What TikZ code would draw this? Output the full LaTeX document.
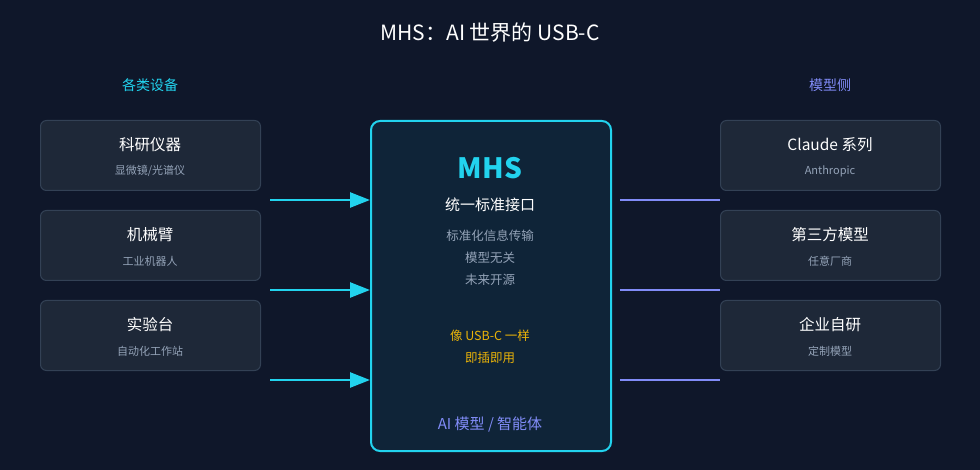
\documentclass[tikz,border=0pt]{standalone}
\usepackage{fontspec}
\setmainfont{Noto Sans CJK SC}
\usetikzlibrary{arrows.meta}
\definecolor{bg}{HTML}{0F172A}
\definecolor{boxf}{HTML}{1E2838}
\definecolor{boxd}{HTML}{334155}
\definecolor{cy}{HTML}{22D3EE}
\definecolor{pu}{HTML}{818CF8}
\definecolor{gr}{HTML}{94A3B8}
\definecolor{yl}{HTML}{EAB308}
\definecolor{cf}{HTML}{0F2438}
\begin{document}
\begin{tikzpicture}[x=1pt,y=-1pt,
 box/.style={draw=boxd,fill=boxf,rounded corners=6pt,line width=1pt,minimum width=220pt,minimum height=70pt,anchor=north west},
 ttl/.style={text=white,font=\fontsize{15.5}{18}\selectfont},
 sub/.style={text=gr,font=\fontsize{11}{13}\selectfont},
 arr/.style={cy,line width=2.5pt,-{Triangle[length=20pt,width=15pt]}},
 ln/.style={pu,line width=2.5pt}]
\fill[bg] (0,0) rectangle (980,470);
\useasboundingbox (0,0) rectangle (980,470);
\node[text=white,font=\fontsize{21}{25}\selectfont] (t) at (490,33) {MHS：AI 世界的 USB-C};
\node[text=cy,font=\fontsize{14}{17}\selectfont] (hl) at (150,85) {各类设备};
\node[text=pu,font=\fontsize{14}{17}\selectfont] (hr) at (830,85) {模型侧};
\foreach \n/\y/\a/\b in {l1/120/科研仪器/{显微镜/光谱仪},l2/210/机械臂/工业机器人,l3/300/实验台/自动化工作站}{
 \node[box] (\n) at (40,\y) {};
 \node[ttl] at (150,\y+25) {\a};
 \node[sub] at (150,\y+51) {\b};}
\foreach \n/\y/\a/\b in {r1/120/Claude 系列/Anthropic,r2/210/第三方模型/任意厂商,r3/300/企业自研/定制模型}{
 \node[box] (\n) at (720,\y) {};
 \node[ttl] at (830,\y+25) {\a};
 \node[sub] at (830,\y+51) {\b};}
\node[draw=cy,fill=cf,line width=2pt,rounded corners=9pt,minimum width=240pt,minimum height=330pt,anchor=north west] (c) at (370,120) {};
\node[text=cy,font=\fontsize{28}{32}\selectfont\bfseries] at (490,168) {MHS};
\node[text=white,font=\fontsize{15}{18}\selectfont] at (490,205) {统一标准接口};
\node[text=gr,font=\fontsize{12.5}{15}\selectfont] at (490,236) {标准化信息传输};
\node[text=gr,font=\fontsize{12.5}{15}\selectfont] at (490,258) {模型无关};
\node[text=gr,font=\fontsize{12.5}{15}\selectfont] at (490,280) {未来开源};
\node[text=yl,font=\fontsize{12.5}{15}\selectfont] at (490,336) {像 USB-C 一样};
\node[text=yl,font=\fontsize{12.5}{15}\selectfont] at (490,358) {即插即用};
\node[text=pu,font=\fontsize{15}{18}\selectfont] at (490,425) {AI 模型 / 智能体};
\foreach \y in {200,290,380}{
 \coordinate (a\y) at (270,\y); \coordinate (b\y) at (370,\y);
 \coordinate (p\y) at (620,\y); \coordinate (q\y) at (720,\y);
 \draw[arr] (a\y) -- (b\y);
 \draw[ln] (p\y) -- (q\y);}
\end{tikzpicture}
\end{document}
